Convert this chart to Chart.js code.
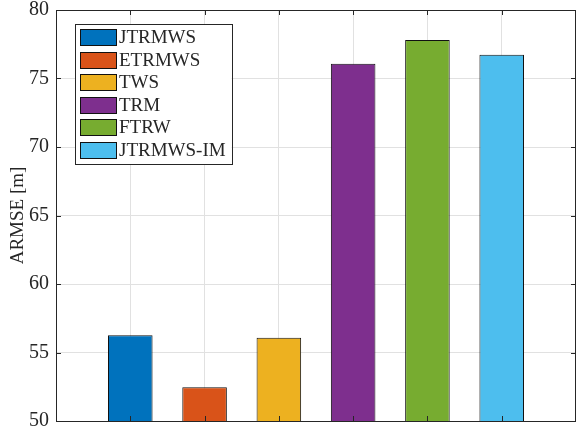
<!DOCTYPE html>
<html>
<head>
<meta charset="utf-8">
<script src="https://cdn.jsdelivr.net/npm/chart.js@4.4.1/dist/chart.umd.min.js"></script>
<style>
  html, body { margin: 0; padding: 0; background: #fff; }
  #wrap { width: 576px; height: 432px; }
</style>
</head>
<body>
<div id="wrap"><canvas id="armseChart" width="576" height="432"></canvas></div>
<script>
// ARMSE per method
const methods = ['JTRMWS', 'ETRMWS', 'TWS', 'TRM', 'FTRW', 'JTRMWS-IM'];
const armse = [56.26, 52.46, 56.08, 76.08, 77.81, 76.74];
const barColors = ['#0072BD', '#D95319', '#EDB120', '#7E2F8E', '#77AC30', '#4DBEEE'];
const yTicks = [50, 55, 60, 65, 70, 75, 80];

const serif = "'Liberation Serif', 'Times New Roman', serif";
const axisColor = '#262626';
const gridColor = '#e1e1e1';

// one dataset per method so each gets its own legend entry
const datasets = methods.map((name, i) => ({
  label: name,
  data: [{ x: i + 1, y: armse[i] }],
  backgroundColor: barColors[i],
  borderColor: '#111',
  borderWidth: 1,
  grouped: false,
  categoryPercentage: 0.6,
  barPercentage: 1.0
}));

// axes box with inward ticks on all four sides
const boxAxes = {
  id: 'boxAxes',
  afterDatasetsDraw(chart) {
    const { ctx, chartArea: a, scales } = chart;
    const len = 5;
    ctx.save();
    ctx.strokeStyle = axisColor;
    ctx.lineWidth = 1;
    ctx.beginPath();
    scales.y.ticks.forEach(t => {
      const y = Math.round(scales.y.getPixelForValue(t.value)) + 0.5;
      ctx.moveTo(a.left, y); ctx.lineTo(a.left + len, y);
      ctx.moveTo(a.right, y); ctx.lineTo(a.right - len, y);
    });
    scales.x.ticks.forEach(t => {
      const x = Math.round(scales.x.getPixelForValue(t.value)) + 0.5;
      ctx.moveTo(x, a.top); ctx.lineTo(x, a.top + len);
      ctx.moveTo(x, a.bottom); ctx.lineTo(x, a.bottom - len);
    });
    const l = Math.round(a.left) + 0.5, r = Math.round(a.right) - 0.5;
    const t = Math.round(a.top) + 0.5, b = Math.round(a.bottom) + 0.5;
    ctx.moveTo(l, t); ctx.lineTo(r, t); ctx.lineTo(r, b); ctx.lineTo(l, b); ctx.closePath();
    ctx.stroke();
    ctx.restore();
  }
};

// boxed legend in the upper left of the plot
const boxLegend = {
  id: 'boxLegend',
  afterDraw(chart) {
    const { ctx, chartArea: a } = chart;
    const ds = chart.data.datasets;
    const x0 = a.left + 19, y0 = a.top + 14;
    const swW = 36, swH = 16, rowH = 22.6;
    ctx.save();
    ctx.font = '19px ' + serif;
    const textW = Math.max(...ds.map(d => ctx.measureText(d.label).width));
    const w = 44 + textW + 6;
    const h = 13 + (ds.length - 1) * rowH + 14;
    ctx.fillStyle = '#fff';
    ctx.fillRect(x0, y0, w, h);
    ctx.strokeStyle = axisColor;
    ctx.lineWidth = 1;
    ctx.strokeRect(Math.round(x0) + 0.5, Math.round(y0) + 0.5, Math.round(w), Math.round(h));
    ds.forEach((d, i) => {
      const cy = y0 + 13 + i * rowH;
      const sy = Math.round(cy - swH / 2) + 0.5;
      ctx.fillStyle = d.backgroundColor;
      ctx.fillRect(x0 + 5.5, sy, swW, swH);
      ctx.strokeStyle = '#111';
      ctx.strokeRect(x0 + 5.5, sy, swW, swH);
      ctx.fillStyle = axisColor;
      ctx.textBaseline = 'middle';
      ctx.fillText(d.label, x0 + 44, cy + 1);
    });
    ctx.restore();
  }
};

new Chart(document.getElementById('armseChart'), {
  type: 'bar',
  data: { datasets },
  options: {
    responsive: false,
    animation: false,
    layout: { padding: { top: 10, right: 0, bottom: 11, left: 0 } },
    plugins: { legend: { display: false }, tooltip: { enabled: false } },
    scales: {
      x: {
        type: 'linear',
        offset: false,
        min: 0,
        max: methods.length + 1,
        ticks: { stepSize: 1, display: false },
        grid: { color: gridColor, drawTicks: false, offset: false },
        border: { display: false },
        afterFit: s => { s.height = 0; s.paddingLeft = 0; s.paddingRight = 0; }
      },
      y: {
        min: yTicks[0],
        max: yTicks[yTicks.length - 1],
        afterBuildTicks: s => { s.ticks = yTicks.map(v => ({ value: v })); },
        ticks: { color: axisColor, padding: 7, font: { family: serif, size: 20 } },
        grid: { color: gridColor, drawTicks: false },
        border: { display: false },
        title: {
          display: true,
          text: 'ARMSE [m]',
          color: axisColor,
          padding: { top: 7, bottom: 0 },
          font: { family: serif, size: 19 }
        },
        afterFit: s => { s.width = 56; s.paddingTop = 0; s.paddingBottom = 0; }
      }
    }
  },
  plugins: [boxAxes, boxLegend]
});
</script>
</body>
</html>
